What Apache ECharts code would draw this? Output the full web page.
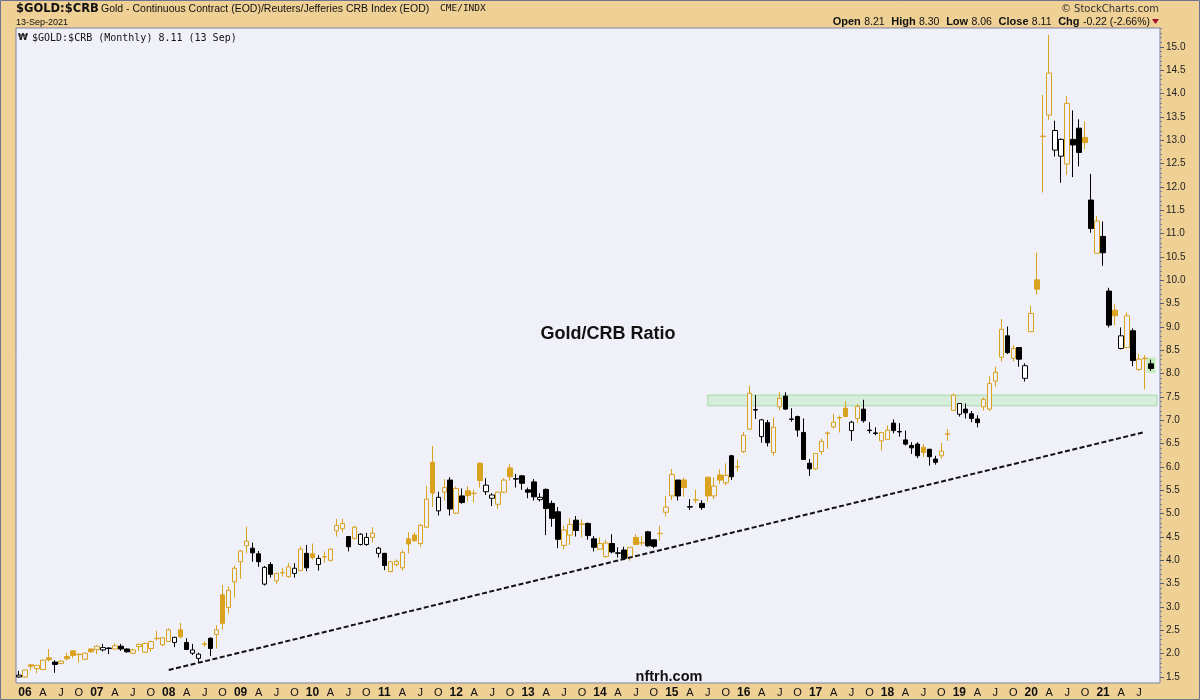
<!DOCTYPE html>
<html><head><meta charset="utf-8">
<script src="https://cdn.jsdelivr.net/npm/echarts@6/dist/echarts.min.js"></script>
<style>html,body{margin:0;padding:0;background:#efd095;}#c{width:1200px;height:700px;}</style>
</head><body><div id="c"></div><script>
// ---- Data: Gold/CRB monthly OHLC, Dec 2005 .. Sep 2021 ----
const priorClose = 1.56; // Nov 2005 close
const opens = [
 1.50,
 1.50,1.76,1.68,1.66,1.91,1.82,1.79,1.94,2.06,1.98,1.88,2.10,
 2.09,2.08,2.12,2.10,2.16,2.10,2.01,2.15,2.03,2.11,2.32,2.19,
 2.26,2.24,2.51,2.24,2.01,1.90,2.20,2.33,2.41,3.26,2.99,3.54,
 3.97,4.31,4.26,4.14,3.49,3.91,3.56,3.73,3.65,3.72,3.78,4.15,
 4.14,3.91,4.07,4.00,4.63,4.68,4.51,4.47,4.34,4.34,4.49,4.15,
 4.15,3.76,3.91,3.84,4.46,4.54,4.36,4.71,6.10,5.06,5.46,5.72,
 5.01,5.38,5.49,5.43,6.08,5.47,5.33,5.20,5.46,5.98,5.75,5.81,
 5.51,5.68,5.30,5.52,5.22,5.04,4.32,4.54,4.86,4.77,4.79,4.46,
 4.24,4.08,4.36,4.16,4.22,4.06,4.49,4.37,4.61,4.44,4.57,5.03,
 5.38,5.72,5.72,5.15,5.29,5.22,5.78,5.38,5.83,5.66,6.24,6.00,
 6.33,6.81,7.23,6.65,6.95,6.31,7.29,7.52,7.03,7.08,6.74,6.08,
 5.96,6.33,6.72,6.86,7.05,7.26,6.78,7.04,7.24,6.79,6.73,6.56,
 6.59,6.94,6.76,6.58,6.46,6.49,6.42,6.38,6.17,6.24,6.70,7.21,
 7.13,7.24,7.14,7.03,7.29,7.24,7.84,8.35,8.81,8.33,8.56,7.90,
 8.90,10.01,13.08,13.54,12.79,12.66,12.49,13.02,13.26,13.06,11.72,10.58,
 10.94,9.77,9.36,8.54,8.56,8.92,8.09,8.32,8.21
];
const highs = [
 1.63,
 1.66,1.78,1.76,1.87,2.10,1.86,1.86,2.02,2.07,2.00,2.02,2.11,
 2.18,2.21,2.14,2.22,2.21,2.11,2.11,2.21,2.24,2.28,2.49,2.35,
 2.54,2.36,2.66,2.33,2.21,2.02,2.26,2.35,2.61,3.47,3.44,3.89,
 4.22,4.72,4.38,4.20,3.88,3.96,3.73,3.83,3.94,3.94,4.29,4.33,
 4.36,4.11,4.19,4.25,4.89,4.89,4.52,4.74,4.58,4.59,4.71,4.29,
 4.16,3.98,4.02,4.22,4.60,4.60,4.78,5.59,6.45,5.47,5.74,5.78,
 5.58,5.54,5.59,5.51,6.10,5.76,5.44,5.47,5.76,6.06,5.85,5.83,
 5.56,5.74,5.44,5.54,5.28,5.14,4.74,4.90,4.95,4.88,4.81,4.52,
 4.49,4.44,4.56,4.28,4.29,4.28,4.56,4.52,4.63,4.44,4.74,5.38,
 5.96,5.72,5.77,5.31,5.51,5.29,5.79,5.78,5.95,6.08,6.26,6.16,
 6.75,7.74,7.54,7.03,7.01,7.06,7.60,7.60,7.26,7.10,7.04,6.17,
 6.29,6.61,6.76,7.14,7.10,7.41,6.99,7.35,7.44,6.96,6.85,6.75,
 6.89,7.02,6.94,6.78,6.53,6.53,6.49,6.38,6.24,6.51,6.81,7.57,
 7.37,7.36,7.20,7.11,7.49,7.95,8.15,9.17,9.01,8.61,8.57,8.22,
 9.45,10.59,13.97,15.26,13.42,13.04,13.95,13.64,13.45,13.40,12.28,11.38,
 11.26,9.84,9.49,8.99,9.31,8.97,8.42,8.40,8.30
];
const lows = [
 1.49,
 1.49,1.64,1.58,1.66,1.83,1.59,1.77,1.85,1.90,1.81,1.87,2.02,
 1.99,2.05,1.99,2.09,2.06,2.02,1.99,2.06,2.02,2.04,2.28,2.16,
 2.25,2.14,2.33,2.09,1.97,1.81,2.15,1.95,2.11,2.51,2.86,3.20,
 3.60,4.15,3.97,3.86,3.46,3.63,3.49,3.65,3.63,3.63,3.77,3.77,
 4.02,3.78,3.95,3.97,4.51,4.60,4.19,4.44,4.32,4.31,4.38,4.06,
 3.79,3.74,3.87,3.78,4.15,4.40,4.29,4.69,5.14,4.96,5.28,4.96,
 4.99,5.21,5.26,5.24,5.56,5.40,5.16,5.10,5.44,5.71,5.56,5.51,
 5.33,5.28,5.26,4.54,4.72,4.26,4.24,4.33,4.51,4.49,4.44,4.19,
 4.23,4.06,4.15,4.06,4.01,3.99,4.33,4.31,4.29,4.26,4.42,4.94,
 5.29,5.28,5.36,5.08,5.22,5.08,5.26,5.31,5.64,5.61,5.72,5.90,
 6.30,6.79,7.03,6.52,6.44,6.24,7.21,7.22,6.97,6.65,6.15,5.81,
 5.94,6.26,6.39,6.82,6.74,7.07,6.56,6.94,6.95,6.72,6.68,6.35,
 6.59,6.72,6.65,6.46,6.28,6.19,6.21,6.03,6.05,6.18,6.56,7.20,
 7.08,7.04,6.96,6.85,7.21,7.20,7.72,8.26,8.42,8.26,8.15,7.83,
 8.90,9.69,11.88,13.44,12.65,12.09,12.26,12.21,12.44,12.81,11.02,10.58,
 10.31,8.99,9.04,8.52,8.55,8.16,8.06,7.66,8.06
];
const closes = [
 1.54,
 1.65,1.73,1.75,1.86,1.87,1.77,1.84,1.89,1.96,1.99,2.01,2.04,
 2.16,2.13,2.11,2.17,2.10,2.04,2.08,2.20,2.22,2.26,2.33,2.34,
 2.51,2.35,2.36,2.09,2.08,1.99,2.21,2.11,2.51,2.65,3.36,3.83,
 4.20,4.41,4.16,3.97,3.85,3.70,3.72,3.74,3.86,3.83,4.24,3.84,
 4.06,4.04,4.08,4.24,4.75,4.79,4.29,4.71,4.56,4.49,4.58,4.26,
 3.89,3.97,3.98,4.17,4.35,4.42,4.75,5.31,5.44,5.35,5.56,5.10,
 5.54,5.24,5.39,5.44,5.71,5.61,5.40,5.46,5.72,5.79,5.74,5.65,
 5.46,5.36,5.35,5.11,4.90,4.45,4.65,4.77,4.64,4.78,4.53,4.28,
 4.36,4.37,4.18,4.15,4.04,4.28,4.34,4.38,4.31,4.30,4.58,5.14,
 5.84,5.38,5.56,5.14,5.30,5.13,5.38,5.59,5.72,5.82,5.79,6.01,
 6.68,7.58,7.22,7.01,6.52,6.85,7.47,7.24,7.02,6.79,6.16,5.96,
 6.29,6.55,6.73,6.96,7.06,7.08,6.96,7.30,6.99,6.78,6.72,6.74,
 6.79,6.78,6.75,6.49,6.41,6.24,6.31,6.22,6.10,6.34,6.71,7.54,
 7.36,7.16,7.04,6.95,7.45,7.79,8.03,8.95,8.45,8.54,8.31,8.17,
 9.29,9.81,13.09,14.44,13.21,13.02,13.79,12.90,12.74,12.95,11.11,11.27,
 10.59,9.04,9.24,8.81,9.24,8.28,8.31,8.33,8.11
];
const yTickLabels = [1.5,2.0,2.5,3.0,3.5,4.0,4.5,5.0,5.5,6.0,6.5,7.0,7.5,8.0,8.5,9.0,9.5,10.0,10.5,11.0,11.5,12.0,12.5,13.0,13.5,14.0,14.5,15.0];
const resistanceBand = [7.31, 7.54];      // green zone
const bandStartMonth = 'Jul 15';
const trendLine = [['Jan 08', 1.65], ['Aug 21', 6.75]];
const lastBar = ['Sep 21', 8.18];

// ---- Categories ----
const MONTHS = ['Jan','Feb','Mar','Apr','May','Jun','Jul','Aug','Sep','Oct','Nov','Dec'];
const categories = [];
for (let i = 0; i < opens.length; i++) {
  const k = 11 + i;
  categories.push(MONTHS[k % 12] + ' ' + String(2005 + Math.floor(k / 12)).slice(2));
}
categories.push(' '); // empty slot on the right edge

const ORANGE = '#d9a21f', BLACK = '#000000', PLOTBG = '#f0f0f8';
const candleData = opens.map((o, i) => {
  const c = closes[i];
  const prev = i ? closes[i - 1] : priorClose;
  const col = c >= prev ? ORANGE : BLACK;
  const hollow = c > o;
  const fill = hollow ? (col === BLACK ? '#ffffff' : PLOTBG) : col;
  return {
    value: [o, c, lows[i], highs[i]],
    itemStyle: { color: fill, color0: fill, borderColor: col, borderColor0: col, borderColorDoji: col }
  };
});

const minorTicks = [];
for (let t = 15; t <= 154; t++) { if (t % 5 !== 0) minorTicks.push(t / 10); }

const FONT = 'Liberation Sans, Arial, sans-serif';
const chart = echarts.init(document.getElementById('c'), null, { renderer: 'canvas' });
chart.setOption({
  animation: false,
  backgroundColor: '#efd095',
  grid: { left: 16, right: 40, top: 28, bottom: 17, show: true, backgroundColor: PLOTBG, borderColor: '#7d83a0', borderWidth: 1 },
  xAxis: {
    type: 'category', data: categories, boundaryGap: true,
    axisLine: { show: false }, axisTick: { show: false }, splitLine: { show: false },
    axisLabel: {
      margin: 4, fontSize: 11, fontFamily: FONT, color: '#111',
      interval: (idx, val) => { const m = val.slice(0, 3); return m === 'Jan' || m === 'Apr' || m === 'Jul' || m === 'Oct'; },
      formatter: (val) => {
        const m = val.slice(0, 3);
        if (m === 'Jan') return '{y|' + val.slice(4) + '}';
        return m === 'Apr' ? 'A' : m === 'Jul' ? 'J' : m === 'Oct' ? 'O' : '';
      },
      rich: { y: { fontWeight: 'bold', fontSize: 12, fontFamily: FONT, color: '#111' } }
    }
  },
  yAxis: [{
    type: 'value', position: 'right', min: 1.3714, max: 15.406, scale: true,
    axisLine: { show: false }, splitLine: { show: false },
    axisTick: { show: true, length: 4, lineStyle: { color: '#555a78' }, customValues: yTickLabels },
    axisLabel: { show: true, margin: 6, fontSize: 10, fontFamily: FONT, color: '#222', customValues: yTickLabels, formatter: v => v.toFixed(1) }
  }, {
    type: 'value', position: 'right', min: 1.3714, max: 15.406, scale: true,
    axisLine: { show: false }, splitLine: { show: false },
    axisTick: { show: true, length: 2, lineStyle: { color: '#7a7f9a' }, customValues: minorTicks },
    axisLabel: { show: false }
  }],
  series: [{
    type: 'scatter', z: 1, silent: true, symbol: 'rect', symbolSize: [9, 15],
    itemStyle: { color: 'rgba(140,230,110,0.55)' },
    data: [lastBar]
  }, {
    type: 'candlestick', z: 2, barWidth: 5, silent: true,
    data: candleData,
    markArea: {
      silent: true,
      itemStyle: { color: 'rgba(160,230,160,0.32)', borderColor: 'rgba(120,200,120,0.55)', borderWidth: 1 },
      data: [[{ xAxis: bandStartMonth, yAxis: resistanceBand[0] }, { xAxis: categories.length - 1, yAxis: resistanceBand[1] }]]
    },
    markLine: {
      silent: true, symbol: ['none', 'none'], label: { show: false },
      lineStyle: { color: '#111', width: 2, type: [5, 2.5] },
      data: [[{ coord: trendLine[0] }, { coord: trendLine[1] }]]
    }
  }],
  graphic: [
    { type: 'rect', silent: true, z: 100, shape: { x: 0.5, y: 0.5, width: 1199, height: 699 }, style: { fill: 'none', stroke: '#6d7391', lineWidth: 1 } },
    { type: 'text', z: 100, style: { text: '$GOLD:$CRB', x: 16, y: 9, font: 'bold 11.5px DejaVu Sans, sans-serif', fill: '#111', align: 'left', verticalAlign: 'middle', textAlign: 'left', textVerticalAlign: 'middle' } },
    { type: 'text', z: 100, style: { text: 'Gold - Continuous Contract (EOD)/Reuters/Jefferies CRB Index (EOD)', x: 101, y: 9, font: '10.5px ' + FONT, fill: '#111', align: 'left', verticalAlign: 'middle', textAlign: 'left', textVerticalAlign: 'middle' } },
    { type: 'text', z: 100, style: { text: 'CME/INDX', x: 440, y: 9, font: '9.5px DejaVu Sans Mono, monospace', fill: '#111', align: 'left', verticalAlign: 'middle', textAlign: 'left', textVerticalAlign: 'middle' } },
    { type: 'text', z: 100, style: { text: '13-Sep-2021', x: 16, y: 23, font: '9px ' + FONT, fill: '#111', align: 'left', verticalAlign: 'middle', textAlign: 'left', textVerticalAlign: 'middle' } },
    { type: 'text', z: 100, style: { text: '\u20A9', x: 18, y: 38, font: 'bold 9px DejaVu Sans, sans-serif', fill: '#222', align: 'left', verticalAlign: 'middle', textAlign: 'left', textVerticalAlign: 'middle' } },
    { type: 'text', z: 100, style: { text: '$GOLD:$CRB (Monthly) 8.11 (13 Sep)', x: 32, y: 38, font: '10px DejaVu Sans Mono, monospace', fill: '#111', align: 'left', verticalAlign: 'middle', textAlign: 'left', textVerticalAlign: 'middle' } },
    { type: 'text', z: 100, style: { text: '\u00A9 StockCharts.com', x: 1159, y: 9, font: '10px DejaVu Sans, sans-serif', fill: '#333', align: 'right', verticalAlign: 'middle', textAlign: 'right', textVerticalAlign: 'middle' } },
    { type: 'text', z: 100, style: {
        text: '{b|Open} {v|8.21}  {b|High} {v|8.30}  {b|Low} {v|8.06}  {b|Close} {v|8.11}  {b|Chg} {v|-0.22 (-2.66%)}',
        x: 1150, y: 22, align: 'right', verticalAlign: 'middle', textAlign: 'right', textVerticalAlign: 'middle',
        rich: { b: { font: 'bold 11px ' + FONT, fill: '#111' }, v: { font: '10.5px ' + FONT, fill: '#111' } } } },
    { type: 'polygon', z: 100, shape: { points: [[1152, 19], [1159, 19], [1155.5, 24]] }, style: { fill: '#a0102a' } },
    { type: 'text', z: 100, style: { text: 'Gold/CRB Ratio', x: 608, y: 334, font: 'bold 18px ' + FONT, fill: '#111', align: 'center', verticalAlign: 'middle', textAlign: 'center', textVerticalAlign: 'middle' } },
    { type: 'text', z: 100, style: { text: 'nftrh.com', x: 669, y: 677, font: 'bold 14.5px ' + FONT, fill: '#111', align: 'center', verticalAlign: 'middle', textAlign: 'center', textVerticalAlign: 'middle' } }
  ]
});
</script></body></html>
